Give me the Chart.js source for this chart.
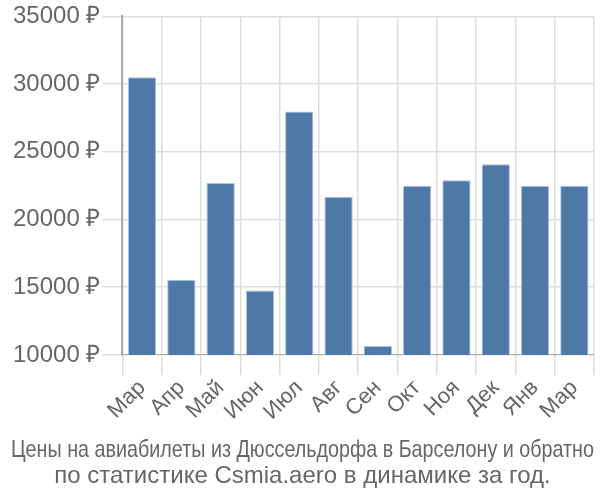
<!DOCTYPE html>
<html>
<head>
<meta charset="utf-8">
<script src="https://cdn.jsdelivr.net/npm/chart.js@4"></script>
<style>
  html, body { margin: 0; padding: 0; background: #fff; }
  #wrap { width: 600px; height: 500px; }
</style>
</head>
<body>
<div id="wrap"><canvas id="chart"></canvas></div>
<script>
var months = ['Мар', 'Апр', 'Май', 'Июн', 'Июл', 'Авг', 'Сен', 'Окт', 'Ноя', 'Дек', 'Янв', 'Мар'];
var prices = [30500, 15550, 22700, 14750, 27980, 21680, 10670, 22500, 22900, 24080, 22500, 22500];
var titleLines = [
    'Цены на авиабилеты из Дюссельдорфа в Барселону и обратно',
    'по статистике Csmia.aero в динамике за год.'
];

var fontFamily = '"Liberation Sans", Arial, sans-serif';
var ctx = document.getElementById('chart').getContext('2d');

var chart = new Chart(ctx, {
    type: 'bar',
    data: {
        labels: months,
        datasets: [{
            data: prices,
            backgroundColor: 'rgb(78, 121, 167)',
            borderColor: 'rgba(170, 195, 225, 1)',
            borderWidth: 1,
            barPercentage: 0.72,
            categoryPercentage: 1.0
        }]
    },
    options: {
        responsive: true,
        maintainAspectRatio: false,
        animation: false,
        layout: { padding: { left: 11, right: 6, top: 2, bottom: 10 } },
        plugins: {
            legend: { display: false },
            tooltip: { enabled: false },
            title: {
                display: true,
                position: 'bottom',
                text: titleLines,
                color: '#666',
                font: { family: fontFamily, size: 24, weight: 'normal', lineHeight: 1.1 },
                padding: { top: 12, bottom: 0 }
            }
        },
        scales: {
            x: {
                grid: { color: '#ddd', lineWidth: 1.5, offset: true, tickLength: 20 },
                border: { color: '#aaa' },
                ticks: {
                    color: '#666',
                    font: { family: fontFamily, size: 22 },
                    autoSkip: false,
                    minRotation: 45,
                    maxRotation: 45,
                    padding: 0
                }
            },
            y: {
                min: 10000,
                max: 35000,
                grid: { color: '#ddd', lineWidth: 1.5, tickLength: 20 },
                border: { color: '#aaa', width: 2 },
                ticks: {
                    stepSize: 5000,
                    color: '#666',
                    font: { family: fontFamily, size: 24 },
                    padding: 2,
                    callback: function(v) { return v + ' ₽'; }
                }
            }
        }
    }
});
</script>
</body>
</html>
